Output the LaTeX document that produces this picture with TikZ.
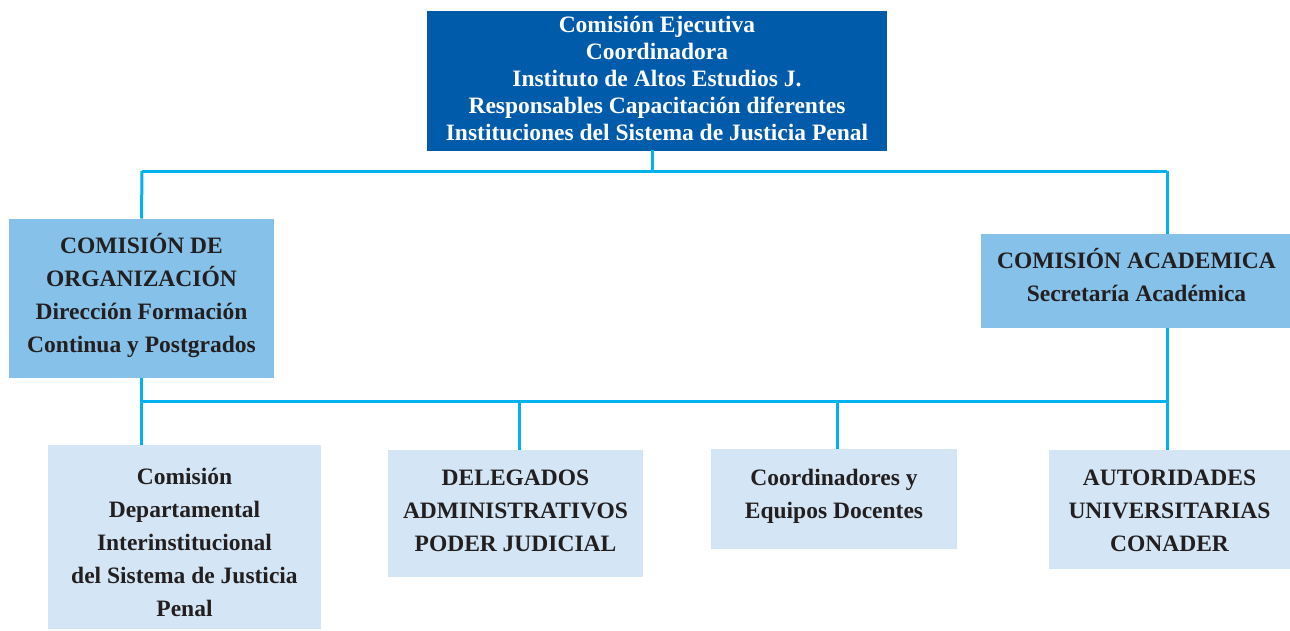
\documentclass[tikz,border=0pt]{standalone}
\usepackage{fontspec}
\setmainfont{Liberation Serif}
\definecolor{topblue}{HTML}{005BAB}
\definecolor{midblue}{HTML}{85C1E9}
\definecolor{lowblue}{HTML}{D4E6F5}
\definecolor{linecyan}{HTML}{00B2EE}
\definecolor{txt}{HTML}{231F20}
\tikzset{
  box/.style={rectangle, inner sep=0pt, outer sep=0pt},
  label/.style={inner sep=0pt, align=center, font=\fontsize{23.5}{33}\selectfont\bfseries, text=txt},
  toplabel/.style={label, text=white, font=\fontsize{23.5}{27}\selectfont\bfseries},
  topbox/.style={box, fill=topblue},
  midbox/.style={box, fill=midblue},
  lowbox/.style={box, fill=lowblue},
  conn/.style={draw=linecyan, line width=3pt}
}
\begin{document}
\begin{tikzpicture}[x=1pt,y=-1pt]
\useasboundingbox (0,0) rectangle (1290,630);
% boxes
\node[topbox, minimum width=460, minimum height=140] (top) at (657,80.5) {};
\node[midbox, minimum width=265, minimum height=159] (org) at (141.5,298) {};
\node[midbox, minimum width=309, minimum height=94] (acad) at (1135.5,281) {};
\node[lowbox, minimum width=273, minimum height=184] (dep) at (184.5,537) {};
\node[lowbox, minimum width=255, minimum height=127] (del) at (515.5,513.5) {};
\node[lowbox, minimum width=246, minimum height=100] (coo) at (834,499) {};
\node[lowbox, minimum width=241, minimum height=119] (aut) at (1169.5,509.5) {};
% texts
\node[toplabel] (topT) at ([yshift=2.5]top.center)
  {Comisión Ejecutiva\\Coordinadora\\Instituto de Altos Estudios J.\\Responsables Capacitación diferentes\\Instituciones del Sistema de Justicia Penal};
\node[label] (orgT) at ([yshift=2]org.center)
  {COMISIÓN DE\\ORGANIZACIÓN\\Dirección Formación\\Continua y Postgrados};
\node[label] (acadT) at ([xshift=1,yshift=5.5]acad.center)
  {COMISIÓN ACADEMICA\\Secretaría Académica};
\node[label] (depT) at ([yshift=-5.5]dep.center)
  {Comisión\\Departamental\\Interinstitucional\\del Sistema de Justicia\\Penal};
\node[label] (delT) at ([yshift=3]del.center)
  {DELEGADOS\\ADMINISTRATIVOS\\PODER JUDICIAL};
\node[label] (cooT) at ([yshift=3]coo.center)
  {Coordinadores y\\Equipos Docentes};
\node[label] (autT) at ([yshift=-1]aut.center)
  {AUTORIDADES\\UNIVERSITARIAS\\CONADER};
% bus coordinates
\coordinate (t0) at (652,150);
\coordinate (busL) at (142,171);
\coordinate (busT) at (652,171);
\coordinate (busR) at (1167,171);
\coordinate (acadS) at (1167,328);
\coordinate (acadN) at (1167,234);
\coordinate (lowL) at (142,401);
\coordinate (lowR) at (1167,401);
\coordinate (delN) at (519,450);
\coordinate (cooN) at (837,449);
\coordinate (autN) at (1167,450);
% connectors
\draw[conn] (t0) -- (busT);
\draw[conn] (busL) -- (busR);
\draw[conn] (busL) -- (org.north);
\draw[conn] (busR) -- (acadN);
\draw[conn] (org.south) -- (dep.north -| org.south);
\draw[conn] (lowL) -- (lowR);
\draw[conn] (acadS) -- (autN);
\draw[conn] (delN |- lowL) -- (delN);
\draw[conn] (cooN |- lowL) -- (cooN);
\end{tikzpicture}
\end{document}
